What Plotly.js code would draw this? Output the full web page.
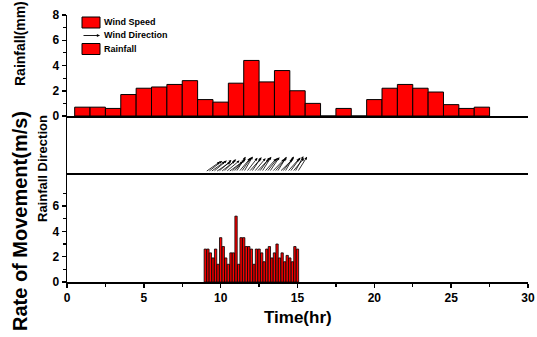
<!DOCTYPE html>
<html>
<head>
<meta charset="utf-8">
<script src="https://cdn.plot.ly/plotly-3.0.1.min.js"></script>
<style>html,body{margin:0;padding:0;background:#fff;}#chart{width:537px;height:337px;}</style>
</head>
<body>
<div id="chart"></div>
<script>
// Hourly rainfall (mm), bars centred on each hour
var rainHours = [1,2,3,4,5,6,7,8,9,10,11,12,13,14,15,16,17,18,19,20,21,22,23,24,25,26,27];
var rainfall  = [0.7,0.7,0.6,1.7,2.2,2.3,2.5,2.8,1.3,1.1,2.6,4.4,2.7,3.6,2.0,1.0,0,0.6,0,1.3,2.2,2.5,2.2,1.9,0.9,0.6,0.7];

// 10-minute wind records
var windTimes = [9.00,9.17,9.33,9.50,9.67,9.83,10.00,10.17,10.33,10.50,10.67,10.83,11.00,11.17,11.33,11.50,11.67,11.83,
                 12.00,12.17,12.33,12.50,12.67,12.83,13.00,13.17,13.33,13.50,13.67,13.83,14.00,14.17,14.33,14.50,14.67,14.83,15.00];
var windSpeed = [2.6,2.6,2.3,1.9,2.6,1.4,3.5,2.8,1.9,1.4,2.3,2.3,5.2,1.4,3.5,3.5,2.8,2.8,
                 2.6,1.4,2.6,2.6,2.3,1.6,2.6,2.8,1.9,2.3,3.0,1.9,2.3,1.6,2.1,1.9,1.6,2.8,2.6];
// direction of the arrows, degrees above the +x axis
var windDirection = [35,38,36,40,34,42,38,45,40,36,42,48,58,50,55,60,52,48,
                     56,50,46,54,58,48,52,56,46,50,58,44,52,60,48,54,50,62,58];

var pxPerHr = 461/30;
var arrowLen = 18;

var traces = [
  {type:'bar', x: rainHours, y: rainfall, xaxis:'x2', yaxis:'y2', width:1,
   marker:{color:'#ff0000', line:{color:'#000', width:1}}, showlegend:false, hoverinfo:'x+y'},
  {type:'bar', x: windTimes, y: windSpeed, xaxis:'x', yaxis:'y', width:0.15,
   marker:{color:'#ff0000', line:{color:'#000', width:0.8}}, showlegend:false, hoverinfo:'x+y'}
];

function px2paperX(p){ return (p-67)/461; }
function px2paperY(p){ return (282-p)/267; }

var annotations = [];
for (var i=0;i<windTimes.length;i++){
  var th = windDirection[i]*Math.PI/180;
  annotations.push({
    xref:'x3', yref:'y3', axref:'x3', ayref:'y3',
    ax: windTimes[i], ay: 1,
    x: windTimes[i] + arrowLen*Math.cos(th)/pxPerHr, y: 1 + arrowLen*Math.sin(th),
    text:'', showarrow:true, arrowhead:2, arrowsize:0.7, arrowwidth:0.8, arrowcolor:'#000'
  });
}

var fam = 'Liberation Sans, Arial, sans-serif';
annotations.push({xref:'paper', yref:'paper', x:px2paperX(20), y:px2paperY(44), text:'<b>Rainfall(mm)</b>',
  textangle:-90, showarrow:false, xanchor:'center', yanchor:'middle',
  font:{family:fam, size:14, color:'#000'}});
annotations.push({xref:'paper', yref:'paper', x:px2paperX(42), y:px2paperY(169), text:'<b>Rainfall Direction</b>',
  textangle:-90, showarrow:false, xanchor:'center', yanchor:'middle',
  font:{family:fam, size:13, color:'#000'}});
annotations.push({xref:'paper', yref:'paper', x:px2paperX(20), y:px2paperY(221), text:'<b>Rate of Movement(m/s)</b>',
  textangle:-90, showarrow:false, xanchor:'center', yanchor:'middle',
  font:{family:fam, size:20, color:'#000'}});
annotations.push({xref:'paper', yref:'paper', x:0.5, y:px2paperY(317), text:'<b>Time(hr)</b>',
  showarrow:false, xanchor:'center', yanchor:'middle',
  font:{family:fam, size:17, color:'#000'}});

// legend
var legFont = {family:fam, size:9, color:'#000'};
annotations.push({xref:'paper', yref:'paper', x:px2paperX(102), y:px2paperY(22.5), text:'<b>Wind Speed</b>',
  showarrow:false, xanchor:'left', yanchor:'middle', font:legFont});
annotations.push({xref:'paper', yref:'paper', x:px2paperX(102), y:px2paperY(35.5), text:'<b>Wind Direction</b>',
  showarrow:false, xanchor:'left', yanchor:'middle', font:legFont});
annotations.push({xref:'paper', yref:'paper', x:px2paperX(102), y:px2paperY(49), text:'<b>Rainfall</b>',
  showarrow:false, xanchor:'left', yanchor:'middle', font:legFont});
annotations.push({xref:'paper', yref:'paper', x:px2paperX(100), y:px2paperY(35.5), ax:-18, ay:0,
  text:'', showarrow:true, arrowhead:2, arrowsize:0.7, arrowwidth:0.9, arrowcolor:'#000'});

var shapes = [
  {type:'rect', xref:'paper', yref:'paper', x0:px2paperX(82), x1:px2paperX(100), y0:px2paperY(28), y1:px2paperY(17),
   fillcolor:'#ff0000', line:{color:'#000', width:1}},
  {type:'rect', xref:'paper', yref:'paper', x0:px2paperX(82), x1:px2paperX(100), y0:px2paperY(54.5), y1:px2paperY(43.5),
   fillcolor:'#ff0000', line:{color:'#000', width:1}}
];

var tickFont = {family:fam, size:12, color:'#000', weight:'bold'};
var layout = {
  width:537, height:337,
  margin:{l:67, r:9, t:15, b:55},
  paper_bgcolor:'#fff', plot_bgcolor:'#fff',
  showlegend:false,
  font:{family:fam, color:'#000'},
  xaxis:{domain:[0,1], anchor:'y', range:[0,30], tickmode:'linear', tick0:0, dtick:5,
    ticks:'outside', ticklen:4, tickwidth:1.5, tickcolor:'#000',
    minor:{dtick:2.5, tick0:0, ticks:'outside', ticklen:3, tickwidth:1.2, tickcolor:'#000'},
    showline:true, linewidth:2, linecolor:'#000', showgrid:false, zeroline:false, tickfont:tickFont},
  yaxis:{domain:[0,0.408], anchor:'x', range:[0,8.6], tickmode:'array', tickvals:[0,2,4,6],
    ticks:'outside', ticklen:4, tickwidth:1.5, tickcolor:'#000',
    minor:{tickmode:'array', tickvals:[1,3,5,7], ticks:'outside', ticklen:3, tickwidth:1.2, tickcolor:'#000'},
    showline:true, linewidth:1.5, linecolor:'#000', showgrid:false, zeroline:false, tickfont:tickFont},
  xaxis2:{anchor:'y2', matches:'x', range:[0,30], showticklabels:false, ticks:'',
    showline:true, linewidth:2, linecolor:'#000', showgrid:false, zeroline:false},
  yaxis2:{domain:[0.6217,1], anchor:'x2', range:[0,8], tickmode:'linear', tick0:0, dtick:2,
    ticks:'outside', ticklen:4, tickwidth:1.5, tickcolor:'#000',
    minor:{dtick:1, tick0:0, ticks:'outside', ticklen:3, tickwidth:1.2, tickcolor:'#000'},
    showline:true, linewidth:1.5, linecolor:'#000', showgrid:false, zeroline:false, tickfont:tickFont},
  xaxis3:{anchor:'y3', matches:'x', range:[0,30], showticklabels:false, ticks:'',
    showline:true, linewidth:2, linecolor:'#000', showgrid:false, zeroline:false},
  yaxis3:{domain:[0.408,0.6217], anchor:'x3', range:[0,57], showticklabels:false, ticks:'',
    showline:true, linewidth:1.5, linecolor:'#000', showgrid:false, zeroline:false},
  annotations: annotations,
  shapes: shapes
};

Plotly.newPlot('chart', traces, layout, {displayModeBar:false, staticPlot:true});
</script>
</body>
</html>
